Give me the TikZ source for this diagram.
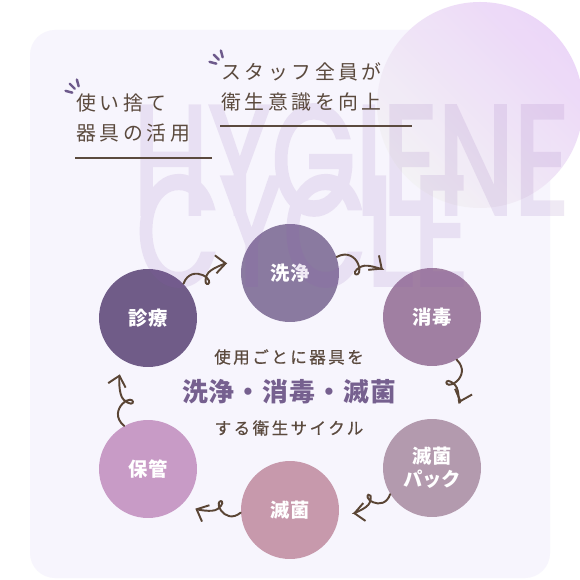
\documentclass[tikz,border=0pt]{standalone}
\usepackage{fontspec}
\newfontfamily\jp{Noto Sans CJK JP}
\newfontfamily\jpm[FakeBold=0.6,LetterSpace=15]{Noto Sans CJK JP}
\newfontfamily\jpsp[LetterSpace=18]{Noto Sans CJK JP}
\newfontfamily\wm[FakeBold=2.5]{Poppins}
\usetikzlibrary{positioning,arrows.meta,calc}
\definecolor{panelbg}{HTML}{F7F5FD}
\definecolor{inkbrown}{HTML}{5B4A3E}
\definecolor{arrowbrown}{HTML}{5A4535}
\definecolor{tickpurple}{HTML}{6E5A8C}
\definecolor{titlepurple}{HTML}{76608F}
\definecolor{wmpurple}{HTML}{8A5AB0}
\definecolor{cShinryo}{HTML}{705C88}
\definecolor{cSenjo}{HTML}{8A7AA0}
\definecolor{cShodoku}{HTML}{A07FA2}
\definecolor{cPack}{HTML}{B39AAE}
\definecolor{cMekkin}{HTML}{C799AC}
\definecolor{cHokan}{HTML}{C89BC6}
\definecolor{glowA}{HTML}{EBD3F8}
\definecolor{glowB}{HTML}{F3F2F5}

\begin{document}
\begin{tikzpicture}[x=0.02cm,y=-0.02cm,
  stage/.style={circle,minimum size=1.96cm,inner sep=0pt,text=white,align=center,font=\jp\bfseries\fontsize{11}{13}\selectfont},
  curl/.style={to path={.. controls ($(\tikztostart)!0.1844!49.4:(\tikztotarget)$) and ($(\tikztostart)!0.2786!21.04:(\tikztotarget)$) .. ($(\tikztostart)!0.3406!3.37:(\tikztotarget)$) .. controls ($(\tikztostart)!0.5503!-19.09:(\tikztotarget)$) and ($(\tikztostart)!0.2973!-42.27:(\tikztotarget)$) .. ($(\tikztostart)!0.4!(\tikztotarget)$) .. controls ($(\tikztostart)!0.4884!10.62:(\tikztotarget)$) and ($(\tikztostart)!0.7823!4.4:(\tikztotarget)$) .. (\tikztotarget) \tikztonodes}},
  flow/.style={draw=arrowbrown,line width=1.1pt,line cap=round,-{Straight Barb[length=2mm,width=3.6mm]},curl},
  accent/.style={tickpurple,line width=1.4pt,line cap=round},
  backdrop/.style={anchor=base west,inner sep=0,text=wmpurple,font=\wm\fontsize{88}{90}\selectfont}]
\useasboundingbox (0,0) rectangle (580,580);
\fill[white] (0,0) rectangle (580,580);
\fill[panelbg,rounded corners=0.5cm] (30,30) rectangle (550,578);
\shade[top color=glowA,bottom color=glowB,shading angle=-45,opacity=0.9] (480,105) circle[radius=103];

% cycle stages
\node[stage,fill=cShinryo] (shinryo) at (148,318) {診療};
\node[stage,fill=cSenjo] (senjo) at (290,273) {洗浄};
\node[stage,fill=cShodoku] (shodoku) at (432,317) {消毒};
\node[stage,fill=cPack] (pack) at (432,468) {滅菌\\パック};
\node[stage,fill=cMekkin] (mekkin) at (290,510) {滅菌};
\node[stage,fill=cHokan] (hokan) at (148,469) {保管};

% watermark
\begin{scope}[transparency group,opacity=0.13]
\node[backdrop] (hyg) at (133,214) {\scalebox{0.7}[1]{HYGIENE}};
\node[backdrop] (cyc) at (136,285) {\scalebox{0.7}[1]{CYCLE}};
\end{scope}

\draw[flow,shorten >=8.5pt] (shinryo.44) to (senjo.167);
\draw[flow,shorten >=11pt] (senjo.19) to (shodoku.133);
\draw[flow,shorten >=12.5pt] (shodoku.-60) to (pack.65);
\draw[flow,shorten >=8pt] (pack.212) to (mekkin.-6);
\draw[flow,shorten >=7.4pt] (mekkin.183) to (hokan.-44);
\draw[flow,shorten >=8pt] (hokan.119) to (shinryo.240);

% centre message
\node[font=\jpm\fontsize{9.4}{11}\selectfont,text=inkbrown] (lead) at (289,357) {使用ごとに器具を};
\node[font=\jp\bfseries\fontsize{14.7}{16}\selectfont\addfontfeatures{LetterSpace=4},text=titlepurple] (steps) at (289,392) {洗浄・消毒・滅菌};
\node[font=\jpm\fontsize{9.4}{11}\selectfont,text=inkbrown] (tail) at (289,428) {する衛生サイクル};

% headings
\node[anchor=west,align=left,inner sep=0,text=inkbrown,font=\jpsp\fontsize{11.3}{17.6}\selectfont] (reuse) at (76,118) {使い捨て\\器具の活用};
\node[anchor=west,align=left,inner sep=0,text=inkbrown,font=\jpsp\fontsize{11.3}{17}\selectfont] (staff) at (221,87) {スタッフ全員が\\衛生意識を向上};
\draw[inkbrown,line width=0.6pt] (75,158) -- (212,158);
\draw[inkbrown,line width=0.6pt] (220,126) -- (412,126);
\foreach \a in {195,225,255} {
  \draw[accent] ($(81,95)+(\a:9)$) -- ($(81,95)+(\a:16)$);
  \draw[accent] ($(225,66)+(\a:9)$) -- ($(225,66)+(\a:16)$);
}
\end{tikzpicture}
\end{document}
